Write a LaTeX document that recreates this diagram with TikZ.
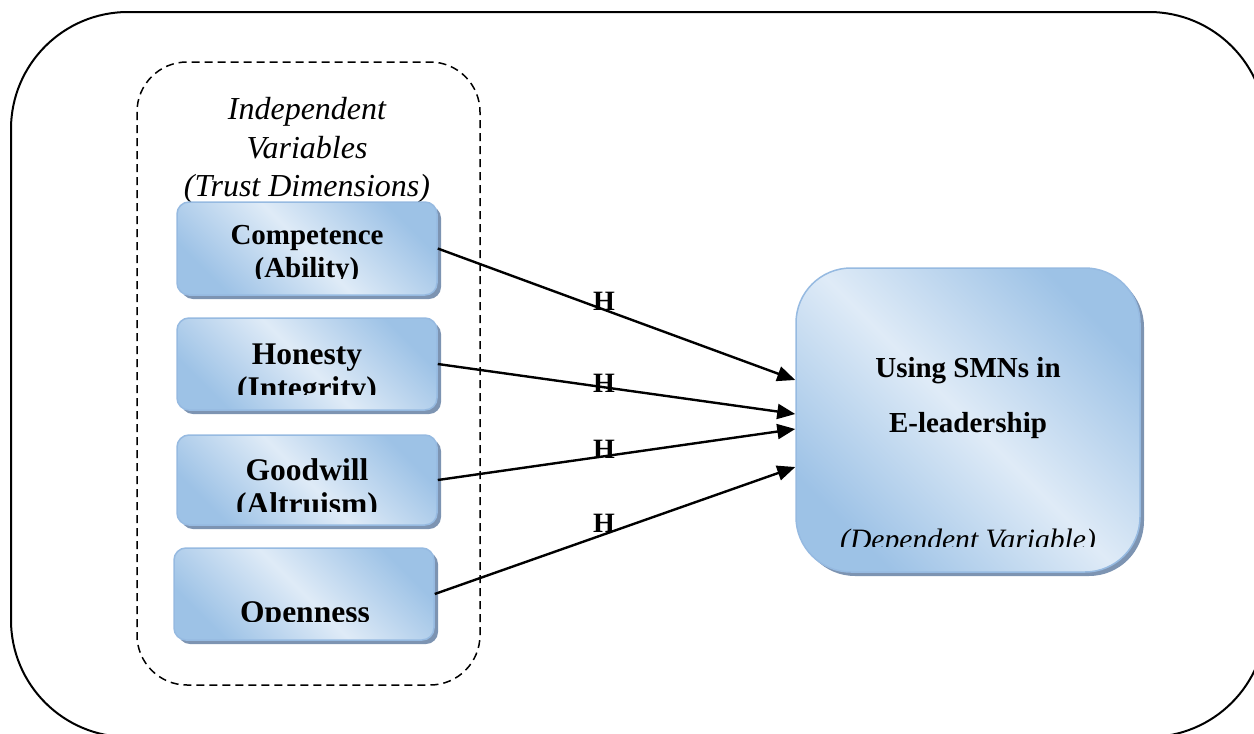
\documentclass[tikz,border=0pt]{standalone}
\usepackage{fontspec}
\setmainfont{Liberation Serif}
\usetikzlibrary{shadows,arrows.meta}
\definecolor{boxdark}{RGB}{157,194,230}
\definecolor{boxlight}{RGB}{223,235,247}
\definecolor{boxline}{RGB}{150,186,225}
\definecolor{boxshadow}{RGB}{125,148,178}
\begin{document}
\begin{tikzpicture}[x=1pt,y=-1pt,
  varbox/.style={rectangle, rounded corners=12pt, draw=boxline, line width=1.5pt,
    top color=boxdark, bottom color=boxdark, middle color=boxlight, shading angle=-45,
    drop shadow={shadow xshift=4pt, shadow yshift=-4pt, fill=boxshadow, opacity=1},
    inner sep=0pt, minimum width=260pt},
  dvbox/.style={varbox, rounded corners=55pt, minimum width=344pt, minimum height=304pt},
  lblA/.style={font=\fontsize{29}{33}\selectfont\bfseries, inner sep=0pt, anchor=base},
  lblB/.style={font=\fontsize{31.5}{34}\selectfont\bfseries, inner sep=0pt, anchor=base},
  ital/.style={font=\fontsize{32}{38}\selectfont\itshape, inner sep=0pt, anchor=base},
  itdv/.style={font=\fontsize{29.6}{34}\selectfont\itshape, inner sep=0pt, anchor=base},
  hlbl/.style={font=\fontsize{28}{30}\selectfont\bfseries, inner sep=0pt, anchor=base},
  arr/.style={line width=2.4pt, -{Triangle[length=18pt,width=15pt]}},
  outerframe/.style={line width=2pt, rounded corners=117pt},
  groupframe/.style={line width=1.5pt, dash pattern=on 8pt off 5pt, rounded corners=50pt}
]
\path[use as bounding box, clip] (0,0) rectangle (1254,734);
\draw[outerframe] (11,12) rectangle (1266,737);
\draw[groupframe] (137,62) rectangle (480,685);

\node[ital] (hd1) at (307,119) {Independent};
\node[ital] (hd2) at (307,158) {Variables};
\node[ital] (hd3) at (307,196) {(Trust Dimensions)};

\node[varbox, minimum height=93pt] (comp) at (307,248.5) {};
\node[varbox, minimum height=92pt] (hon) at (307,364) {};
\node[varbox, minimum height=90pt] (good) at (307,480) {};
\node[varbox, minimum height=92pt] (open) at (304,594) {};
\node[dvbox] (dv) at (968,420) {};

\begin{scope}
\clip (177,202) rectangle (437,278);
\node[lblA] (comp1) at (307,244) {Competence};
\node[lblA] (comp2) at (307,277) {(Ability)};
\end{scope}
\begin{scope}
\clip (177,318) rectangle (437,394);
\node[lblB] (hon1) at (307,364) {Honesty};
\node[lblB] (hon2) at (307,398) {(Integrity)};
\end{scope}
\begin{scope}
\clip (177,435) rectangle (437,511);
\node[lblB] (good1) at (307,480) {Goodwill};
\node[lblB] (good2) at (307,514) {(Altruism)};
\end{scope}
\begin{scope}
\clip (174,548) rectangle (434,621);
\node[lblB] (open1) at (305,622) {Openness};
\end{scope}
\begin{scope}
\clip (796,268) rectangle (1140,546);
\node[lblA] (dv1) at (968,377) {Using SMNs in};
\node[lblA] (dv2) at (968,432) {E-leadership};
\node[itdv] (dv3) at (968,549) {(Dependent Variable)};
\end{scope}

\draw[arr] (comp.east) -- ([yshift=40pt]dv.west);
\draw[arr] (hon.east) -- ([yshift=6pt]dv.west);
\draw[arr] (good.east) -- ([yshift=-9pt]dv.west);
\draw[arr] (open.east) -- ([yshift=-47pt]dv.west);

\node[hlbl] (h1) at (604,310) {H};
\node[hlbl] (h2) at (604,392) {H};
\node[hlbl] (h3) at (604,458) {H};
\node[hlbl] (h4) at (604,532) {H};
\end{tikzpicture}
\end{document}
